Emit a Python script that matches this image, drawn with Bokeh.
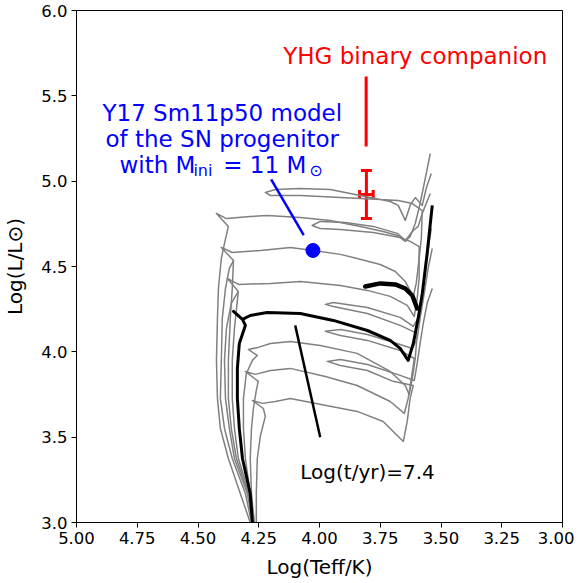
from bokeh.plotting import figure
from bokeh.models import (Range1d, FixedTicker, PrintfTickFormatter, Label,
                          Whisker, TeeHead, ColumnDataSource)
from bokeh.embed import file_html
from bokeh.resources import INLINE

# ---------------- data (log Teff, log L) ----------------
T1 = [(4.285,3.000),(4.326,3.170),(4.375,3.375),(4.408,3.551),(4.420,3.727),(4.424,3.950),(4.420,4.196),(4.416,4.371),(4.404,4.547),(4.391,4.635),(4.375,4.735),(4.424,4.811),(4.383,4.781),(4.285,4.793),(4.215,4.799),(4.079,4.787),(3.956,4.770),(3.832,4.735),(3.738,4.705),(3.680,4.682),(3.647,4.647),(3.627,4.676),(3.606,4.752),(3.586,4.869),(3.569,4.987),(3.544,5.162)]
T2 = [(4.280,3.000),(4.305,3.170),(4.359,3.375),(4.391,3.551),(4.408,3.727),(4.404,3.950),(4.400,4.196),(4.387,4.371),(4.371,4.489),(4.354,4.535),(4.404,4.612),(4.359,4.582),(4.243,4.594),(4.120,4.612),(4.025,4.594),(3.914,4.571),(3.845,4.547),(3.750,4.512),(3.688,4.471),(3.647,4.412),(3.614,4.325),(3.602,4.401),(3.590,4.547),(3.581,4.664),(3.577,4.828),(3.618,4.869),(3.676,4.887),(3.750,4.893),(3.914,4.904),(4.079,4.916),(4.202,4.916),(4.223,4.934),(4.182,4.951),(4.079,4.957),(3.956,4.951),(3.832,4.916),(3.709,4.881),(3.676,4.858),(3.647,4.770),(3.627,4.858),(3.606,4.904),(3.577,4.858),(3.561,4.957),(3.540,5.045)]
T3 = [(4.276,3.000),(4.297,3.170),(4.350,3.375),(4.371,3.551),(4.387,3.727),(4.391,3.950),(4.383,4.137),(4.363,4.284),(4.334,4.354),(4.379,4.430),(4.334,4.395),(4.202,4.401),(4.079,4.412),(3.914,4.389),(3.803,4.360),(3.709,4.325),(3.639,4.272),(3.610,4.207),(3.598,4.313),(3.590,4.430),(3.590,4.547),(3.590,4.617),(3.627,4.647),(3.668,4.670),(3.779,4.699),(3.914,4.717),(3.997,4.723),(4.030,4.740),(3.997,4.764),(3.894,4.758),(3.779,4.735),(3.680,4.694),(3.647,4.653),(3.614,4.711),(3.594,4.735),(3.577,4.811),(3.561,4.869),(3.544,4.928)]
E1 = [(4.272,3.000),(4.293,3.170),(4.342,3.375),(4.363,3.551),(4.375,3.727),(4.375,3.950),(4.367,4.196),(4.359,4.371),(4.354,4.535)]
E2 = [(4.272,3.000),(4.289,3.170),(4.334,3.375),(4.350,3.551),(4.359,3.727),(4.359,3.950),(4.350,4.137),(4.334,4.354)]
T4 = [(4.272,3.000),(4.285,3.170),(4.305,3.375),(4.313,3.551),(4.313,3.727),(4.301,3.873),(4.276,3.950),(4.256,3.979),(4.293,4.014),(4.252,4.026),(4.202,4.049),(4.120,4.061),(3.997,4.037),(3.845,3.991),(3.709,3.885),(3.647,3.803),(3.631,3.750),(3.618,3.844),(3.606,3.961),(3.598,4.108),(3.668,4.155),(3.803,4.225),(3.943,4.266),(3.976,4.278),(3.943,4.289),(3.803,4.260),(3.668,4.202),(3.614,4.149),(3.590,4.207),(3.577,4.342),(3.561,4.518),(3.540,4.723)]
T5 = [(4.268,3.000),(4.280,3.170),(4.285,3.375),(4.280,3.551),(4.272,3.668),(4.260,3.774),(4.252,3.827),(4.305,3.885),(4.264,3.868),(4.202,3.891),(4.120,3.903),(3.976,3.856),(3.845,3.803),(3.709,3.709),(3.651,3.639),(3.635,3.727),(3.622,3.844),(3.610,3.961),(3.668,4.008),(3.803,4.067),(3.914,4.096),(3.976,4.120),(3.914,4.131),(3.803,4.102),(3.668,4.043),(3.618,4.020),(3.598,4.078),(3.586,4.196),(3.569,4.342),(3.553,4.489),(3.536,4.606)]
T6 = [(4.260,3.000),(4.260,3.170),(4.256,3.375),(4.243,3.510),(4.223,3.622),(4.231,3.668),(4.276,3.715),(4.235,3.698),(4.182,3.709),(4.120,3.727),(3.845,3.651),(3.738,3.592),(3.680,3.510),(3.655,3.475),(3.639,3.592),(3.627,3.727),(3.614,3.803),(3.697,3.827),(3.803,3.891),(3.914,3.920),(3.968,3.944),(3.914,3.955),(3.803,3.926),(3.668,3.862),(3.610,3.832),(3.598,3.932),(3.586,4.049),(3.573,4.166),(3.557,4.284),(3.536,4.371)]
ISO = [(4.276,3.000),(4.285,3.170),(4.317,3.375),(4.330,3.551),(4.338,3.727),(4.338,3.903),(4.330,4.049),(4.313,4.120),(4.305,4.155),(4.317,4.190),(4.354,4.237),(4.317,4.190),(4.285,4.213),(4.215,4.231),(4.079,4.225),(3.943,4.184),(3.803,4.125),(3.709,4.067),(3.668,4.020),(3.635,3.950),(3.614,4.049),(3.594,4.196),(3.577,4.342),(3.557,4.576),(3.536,4.858)]
ISO_LOOP = [(3.812,4.383),(3.750,4.401),(3.688,4.395),(3.647,4.371),(3.618,4.330),(3.598,4.254)]

PROG_TEFF = [4.027]
PROG_LOGL = [4.594]
COMP_TEFF = 3.807
COMP_TEFF_ERR = 0.028
COMP_LOGL = 4.922
COMP_LOGL_ERR = 0.141

X_TICKS = [5.0, 4.75, 4.5, 4.25, 4.0, 3.75, 3.5, 3.25, 3.0]
Y_TICKS = [3.0, 3.5, 4.0, 4.5, 5.0, 5.5, 6.0]

FONT = "DejaVu Sans"

p = figure(frame_width=486, frame_height=512,
           x_range=Range1d(5.0, 3.0), y_range=Range1d(3.0, 6.0),
           output_backend="svg", toolbar_location=None,
           min_border_left=76, min_border_top=10, min_border_right=12,
           min_border_bottom=6)
p.grid.visible = False
p.outline_line_color = "black"
p.outline_line_alpha = 1.0
p.outline_line_width = 1
p.background_fill_color = "white"
p.border_fill_color = "white"

for ax, ticks, fmt in ((p.xaxis[0], X_TICKS, "%.2f"), (p.yaxis[0], Y_TICKS, "%.1f")):
    ax.ticker = FixedTicker(ticks=ticks)
    ax.formatter = PrintfTickFormatter(format=fmt)
    ax.minor_tick_line_color = None
    ax.major_tick_out = 5
    ax.major_tick_in = 0
    ax.major_tick_line_color = "black"
    ax.axis_line_color = "black"
    ax.major_label_text_font = FONT
    ax.major_label_text_font_size = "16.5px"
    ax.major_label_text_color = "black"
    ax.major_label_standoff = 4
    ax.axis_label_text_font = FONT
    ax.axis_label_text_font_size = "20px"
    ax.axis_label_text_font_style = "normal"
    ax.axis_label_text_color = "black"

p.xaxis[0].axis_label = "Log(Teff/K)"
p.xaxis[0].axis_label_standoff = 8
p.yaxis[0].axis_label = "Log(L/L⊙)"
p.yaxis[0].axis_label_standoff = 11

# gray evolutionary tracks
for trk in (E1, E2, T1, T2, T3, T4, T5, T6):
    p.line([a for a, b in trk], [b for a, b in trk], line_color="#808080",
           line_width=1.5, line_join="round")

# isochrone
p.line([a for a, b in ISO], [b for a, b in ISO], line_color="black",
       line_width=3, line_join="round")
p.line([a for a, b in ISO_LOOP], [b for a, b in ISO_LOOP], line_color="black",
       line_width=4.5, line_join="round", line_cap="round")

# progenitor model point
p.scatter(PROG_TEFF, PROG_LOGL, size=14, fill_color="blue", line_color="blue")

# companion error bars
src = ColumnDataSource(dict(x=[COMP_TEFF], y=[COMP_LOGL],
                            ylo=[COMP_LOGL - COMP_LOGL_ERR], yhi=[COMP_LOGL + COMP_LOGL_ERR],
                            xlo=[COMP_TEFF - COMP_TEFF_ERR], xhi=[COMP_TEFF + COMP_TEFF_ERR]))
p.add_layout(Whisker(source=src, base="x", lower="ylo", upper="yhi", dimension="height",
                     line_color="red", line_width=3,
                     lower_head=TeeHead(size=11, line_color="red", line_width=3),
                     upper_head=TeeHead(size=11, line_color="red", line_width=3)))
p.add_layout(Whisker(source=src, base="y", lower="xlo", upper="xhi", dimension="width",
                     line_color="red", line_width=3,
                     lower_head=TeeHead(size=9, line_color="red", line_width=3),
                     upper_head=TeeHead(size=9, line_color="red", line_width=3)))

# annotation pointer lines
p.line([3.808, 3.808], [5.203, 5.613], line_color="red", line_width=3)
p.line([4.199, 4.065], [5.010, 4.684], line_color="blue", line_width=2.5)
p.line([4.100, 3.997], [4.155, 3.499], line_color="black", line_width=2.5)

def lab(x, y, text, color, size, align="center"):
    p.add_layout(Label(x=x, y=y, text=text, text_color=color, text_font=FONT,
                       text_font_size=size, text_align=align,
                       text_baseline="alphabetic"))

lab(3.606, 5.735, "YHG binary companion", "red", "23px")
lab(4.400, 5.397, "Y17 Sm11p50 model", "blue", "23px")
lab(4.400, 5.246, "of the SN progenitor", "blue", "23px")
lab(4.823, 5.094, "with M", "blue", "23px", "left")
lab(4.519, 5.064, "ini", "blue", "16px", "left")
lab(4.396, 5.094, "= 11 M", "blue", "23px", "left")
lab(4.042, 5.063, "⊙", "blue", "16px", "left")
lab(4.079, 3.298, "Log(t/yr)=7.4", "black", "20px", "left")

open("out.html", "w").write(file_html(p, INLINE))
